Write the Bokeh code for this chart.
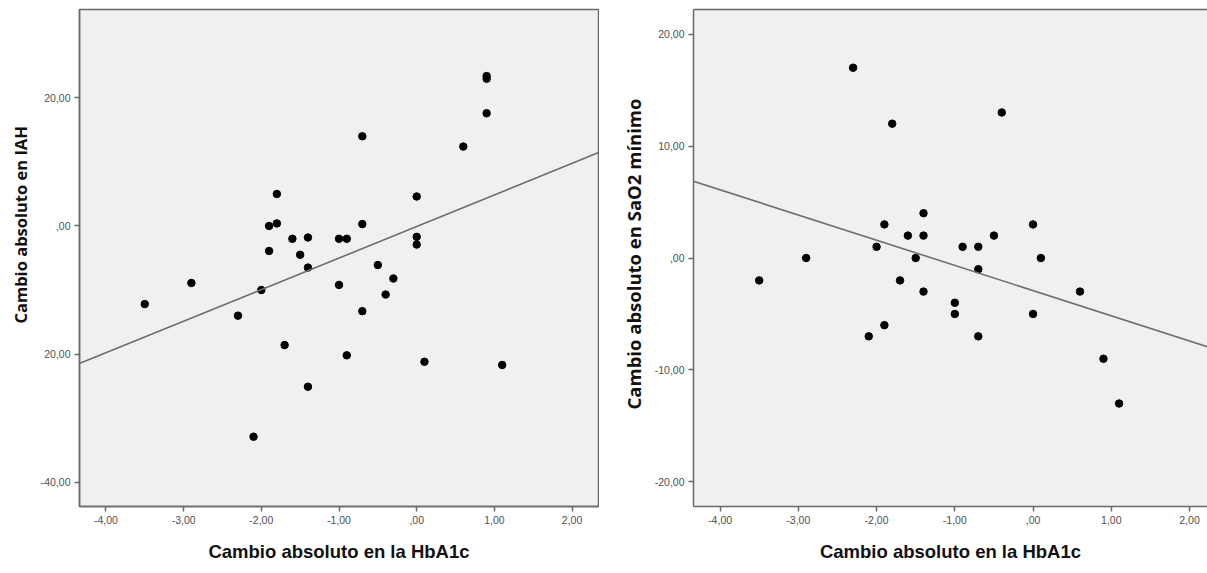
from bokeh.plotting import figure
from bokeh.layouts import row
from bokeh.models import (ColumnDataSource, FixedTicker, Slope, LinearAxis, Range1d, Title)
from bokeh.embed import file_html
from bokeh.resources import INLINE

# ---- data ----------------------------------------------------------------
hba1c_iah = [-3.5, -2.9, -2.3, -2.1, -2.0, -1.9, -1.9, -1.8, -1.8, -1.7, -1.6, -1.5,
             -1.4, -1.4, -1.4, -1.0, -1.0, -0.9, -0.9, -0.7, -0.7, -0.7, -0.5, -0.4,
             -0.3, 0.0, 0.0, 0.0, 0.1, 0.6, 0.9, 0.9, 0.9, 1.1]
iah_change = [-12.2, -8.9, -14.0, -32.9, -10.0, 0.0, -3.9, 0.4, 5.0, -18.6, -2.0, -4.5,
              -1.8, -6.5, -25.1, -2.0, -9.2, -2.0, -20.2, 14.0, 0.3, -13.3, -6.1, -10.7,
              -8.2, 4.6, -1.7, -2.9, -21.2, 12.4, 23.4, 23.0, 17.6, -21.7]

hba1c_sao2 = [-3.5, -2.9, -2.3, -2.1, -2.0, -1.9, -1.9, -1.8, -1.7, -1.6, -1.5, -1.4,
              -1.4, -1.4, -1.0, -1.0, -0.9, -0.7, -0.7, -0.7, -0.5, -0.4, 0.0, 0.0,
              0.1, 0.6, 0.9, 1.1]
sao2_change = [-2, 0, 17, -7, 1, 3, -6, 12, -2, 2, 0, 4,
               2, -3, -4, -5, 1, 1, -1, -7, 2, 13, 3, -5,
               0, -3, -9, -13]

# fit lines (slope, intercept)
iah_fit = (4.93, -0.08)
sao2_fit = (-2.25, -2.91)

x_ticks = [-4, -3, -2, -1, 0, 1, 2]
x_tick_labels = ["-4,00", "-3,00", "-2,00", "-1,00", ",00", "1,00", "2,00"]
iah_ticks = [-40, -20, 0, 20]
iah_tick_labels = ["-40,00", "20,00", ",00", "20,00"]
sao2_ticks = [-20, -10, 0, 10, 20]
sao2_tick_labels = ["-20,00", "-10,00", ",00", "10,00", "20,00"]

x_title = "Cambio absoluto en la HbA1c"
iah_title = "Cambio absoluto en IAH"
sao2_title = "Cambio absoluto en SaO2 mínimo"

# ---- styling -------------------------------------------------------------
FRAME = "#6a6a6a"
BG = "#f0f0f0"
TICK_FONT = "'Liberation Sans Narrow', 'Liberation Sans', sans-serif"
XTITLE_FONT = "'Liberation Sans Narrow', 'Liberation Sans', sans-serif"
YTITLE_FONT = "'Open Sans', sans-serif"


def style_axis(ax, ticks, labels):
    ax.ticker = FixedTicker(ticks=ticks)
    ax.major_label_overrides = {t: l for t, l in zip(ticks, labels)}
    ax.major_label_text_font = TICK_FONT
    ax.major_label_text_font_size = "10.5px"
    ax.major_label_text_color = "#505050"
    ax.major_tick_in = 0
    ax.major_tick_out = 5
    ax.major_tick_line_color = FRAME
    ax.major_tick_line_width = 1.5
    ax.minor_tick_line_color = None
    ax.axis_line_color = FRAME
    ax.axis_line_width = 1.5
    ax.major_label_standoff = 4


def make_plot(xs, ys, fit, yticks, ylabels, ytitle, ytitle_size, ytitle_offset,
              x_end, y_range, width, border_left, border_right, border_bottom,
              full_outline):
    p = figure(width=width, height=573, output_backend="svg", toolbar_location=None,
               x_range=Range1d(-4.34, x_end), y_range=Range1d(*y_range),
               min_border_left=border_left, min_border_right=border_right,
               min_border_top=9, min_border_bottom=border_bottom,
               background_fill_color=BG, border_fill_color="white")
    p.grid.visible = False

    xax = p.below[0]
    yax = p.left[0]
    style_axis(xax, x_ticks, x_tick_labels)
    style_axis(yax, yticks, ylabels)

    xax.axis_label = x_title
    xax.axis_label_text_font = XTITLE_FONT
    xax.axis_label_text_font_style = "bold"
    xax.axis_label_text_font_size = "18.5px"
    xax.axis_label_text_color = "#111111"
    xax.axis_label_standoff = 14

    # vertical title, measured from the bottom of the frame
    p.add_layout(Title(text=ytitle, align="left", offset=ytitle_offset,
                       text_font=YTITLE_FONT, text_font_style="bold",
                       text_font_size=ytitle_size, text_color="#111111",
                       standoff=12), "left")

    if full_outline:
        p.outline_line_color = FRAME
        p.outline_line_width = 1.5
    else:
        # frame continues past the right edge: only the top edge is drawn
        p.outline_line_color = None
        top = LinearAxis(ticker=FixedTicker(ticks=[]), major_label_text_font_size="0px",
                         major_tick_out=0, major_tick_in=0, axis_line_color=FRAME,
                         axis_line_width=1.5, minor_tick_line_color=None,
                         major_label_standoff=0)
        p.add_layout(top, "above")

    p.add_layout(Slope(gradient=fit[0], y_intercept=fit[1],
                       line_color="#6e6e6e", line_width=1.6))

    src = ColumnDataSource(dict(x=xs, y=ys))
    p.scatter("x", "y", source=src, size=7.5, color="black")
    return p


left = make_plot(hba1c_iah, iah_change, iah_fit, iah_ticks, iah_tick_labels, iah_title,
                 "16.5px", 183, 2.34, (-43.8, 33.8), 599, 76, 1, 67, True)
right = make_plot(hba1c_sao2, sao2_change, sao2_fit, sao2_ticks, sao2_tick_labels,
                  sao2_title, "18.5px", 97, 2.23, (-22.2, 22.2), 608, 94, 0, 66, False)

layout = row(left, right, spacing=0)
open("out.html", "w").write(file_html(layout, INLINE))
